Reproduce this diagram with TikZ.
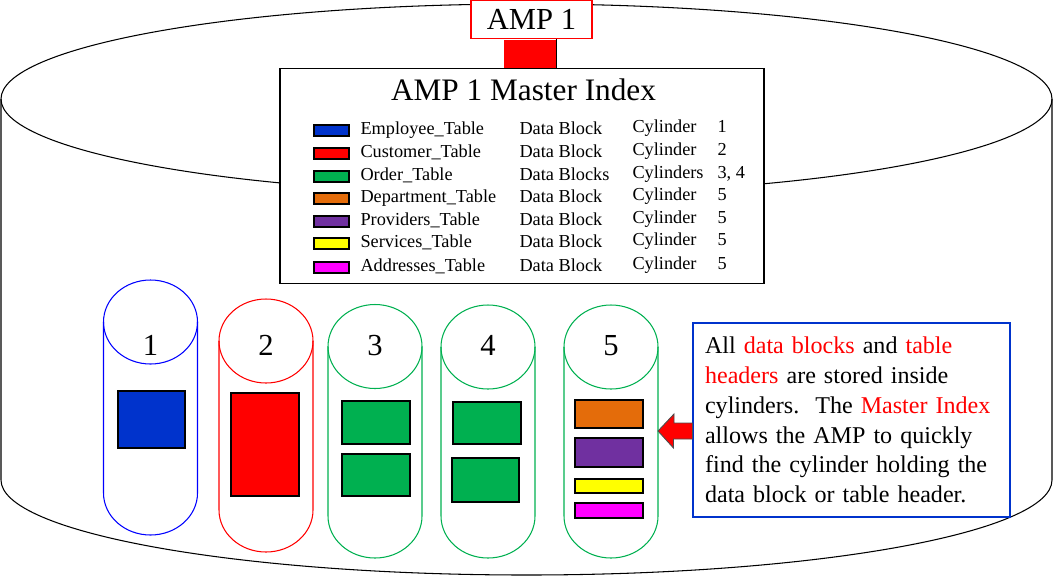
\documentclass[tikz,border=0pt]{standalone}
\usepackage{fontspec}
\setmainfont{Liberation Serif}
\usetikzlibrary{positioning}
\definecolor{blkblue}{RGB}{0,51,204}
\definecolor{blkgreen}{RGB}{0,176,80}
\definecolor{blkorange}{RGB}{228,108,10}
\definecolor{blkpurple}{RGB}{112,48,160}
\definecolor{blkyellow}{RGB}{255,255,0}
\definecolor{blkmagenta}{RGB}{255,0,255}
\newcommand{\pxu}{0.02cm}

\begin{document}
\begin{tikzpicture}[x=0.02cm, y=-0.02cm, line width=0.6pt,
    swatch/.style={draw, minimum width=35*\pxu, minimum height=11*\pxu, inner sep=0pt, line width=0.8pt},
    block/.style={draw, inner sep=0pt, line width=0.8pt},
    rowtext/.style={anchor=base west, inner sep=0pt, font=\fontsize{10.4}{12}\selectfont},
    cylnum/.style={anchor=base, inner sep=0pt, font=\fontsize{17.4}{20}\selectfont},
    bigtext/.style={inner sep=0pt, font=\fontsize{17.4}{20}\selectfont}
]
\useasboundingbox (0,0) rectangle (1053,578);
\draw (1,99) -- (1,480) arc[start angle=180, end angle=0, x radius=525.5, y radius=95] -- (1052,99);
\draw (526.5,99) ellipse[x radius=525.5, y radius=95];

\node (amp) [draw=red, fill=white, minimum width=121*\pxu, minimum height=38*\pxu, bigtext] at (531.5,19.5) {AMP 1};
\node (link) [fill=red, minimum width=52*\pxu, minimum height=28*\pxu, inner sep=0pt, below=0pt of amp, xshift=-1.5*\pxu] {};
\draw (link.north east) -- (link.south east);
\node (master) [draw, fill=white, minimum width=484*\pxu, minimum height=215*\pxu, below=0pt of link, xshift=-8*\pxu] {};
\node (title) [anchor=base, bigtext, font=\fontsize{17.8}{20}\selectfont] at (523.5,100) {AMP 1 Master Index};

\foreach \y/\c/\tbl/\dat/\cyl/\num [count=\i] in {134/blkblue/Employee/Data Block/Cylinder/1,
    157/red/Customer/Data Block/Cylinder/2,
    180/blkgreen/Order/Data Blocks/Cylinders/{3, 4},
    202/blkorange/Department/Data Block/Cylinder/5,
    225/blkpurple/Providers/Data Block/Cylinder/5,
    247/blkyellow/Services/Data Block/Cylinder/5,
    271/blkmagenta/Addresses/Data Block/Cylinder/5} {
  \node[swatch, fill=\c] (sw\i) at (331.5,\y-3.5) {};
  \node[rowtext] (tbl\i) at (360,\y) {\tbl\_Table};
  \node[rowtext] (dat\i) at (519,\y) {\dat};
  \node[rowtext] (cyl\i) at (632,\y-2) {\cyl};
  \node[rowtext] (num\i) at (717,\y-2) {\num};
}

\foreach \cx/\ty/\by/\c/\num in {150.5/322/493/blue/1, 266/341/510/red/2,
    375/346.5/516/blkgreen/3, 488/347/516/blkgreen/4, 611/347/516/blkgreen/5} {
  \draw[\c] (\cx-47,\ty) -- (\cx-47,\by) arc[start angle=180, end angle=0, x radius=47, y radius=42] -- (\cx+47,\ty);
  \draw[\c] (\cx,\ty) ellipse[x radius=47, y radius=42];
  \node[cylnum] (cylnum\num) at (\cx,355) {\num};
}

\foreach \n/\x/\y/\w/\h/\c in {blk1/151.5/419.5/67/57/blkblue, blk2/265/444.5/68/103/red,
    blk3a/376/422.5/68/43/blkgreen, blk3b/376/475/68/42/blkgreen,
    blk4a/487/423/68/42/blkgreen, blk4b/485.5/480/67/44/blkgreen,
    blk5a/609/414/68/28/blkorange, blk5b/609/452.5/68/29/blkpurple,
    blk5c/609/486/68/14/blkyellow, blk5d/609/510.5/68/15/blkmagenta}
  \node[block, fill=\c, minimum width=\w*\pxu, minimum height=\h*\pxu] (\n) at (\x,\y) {};

\node (note) [draw=blkblue, minimum width=317*\pxu, minimum height=194*\pxu, text width=5.86cm, inner xsep=0.24cm, align=left, font=\fontsize{13.7}{17}\selectfont] at (851.5,420)
  {All \textcolor{red}{data blocks} and \textcolor{red}{table}\\
   \textcolor{red}{headers} are stored inside\\
   cylinders.\ \ The \textcolor{red}{Master Index}\\
   allows the AMP to quickly\\
   find the cylinder holding the\\
   data block or table header.};

\coordinate (tip) at (658,431);
\draw[fill=red, draw=black!70, line width=0.5pt] (tip) -- ++(16,-17) -- ++(0,9) -- (note.west |- 0,423) -- ++(0,16) -- ++(-19,0) -- ++(0,9) -- cycle;
\end{tikzpicture}
\end{document}
